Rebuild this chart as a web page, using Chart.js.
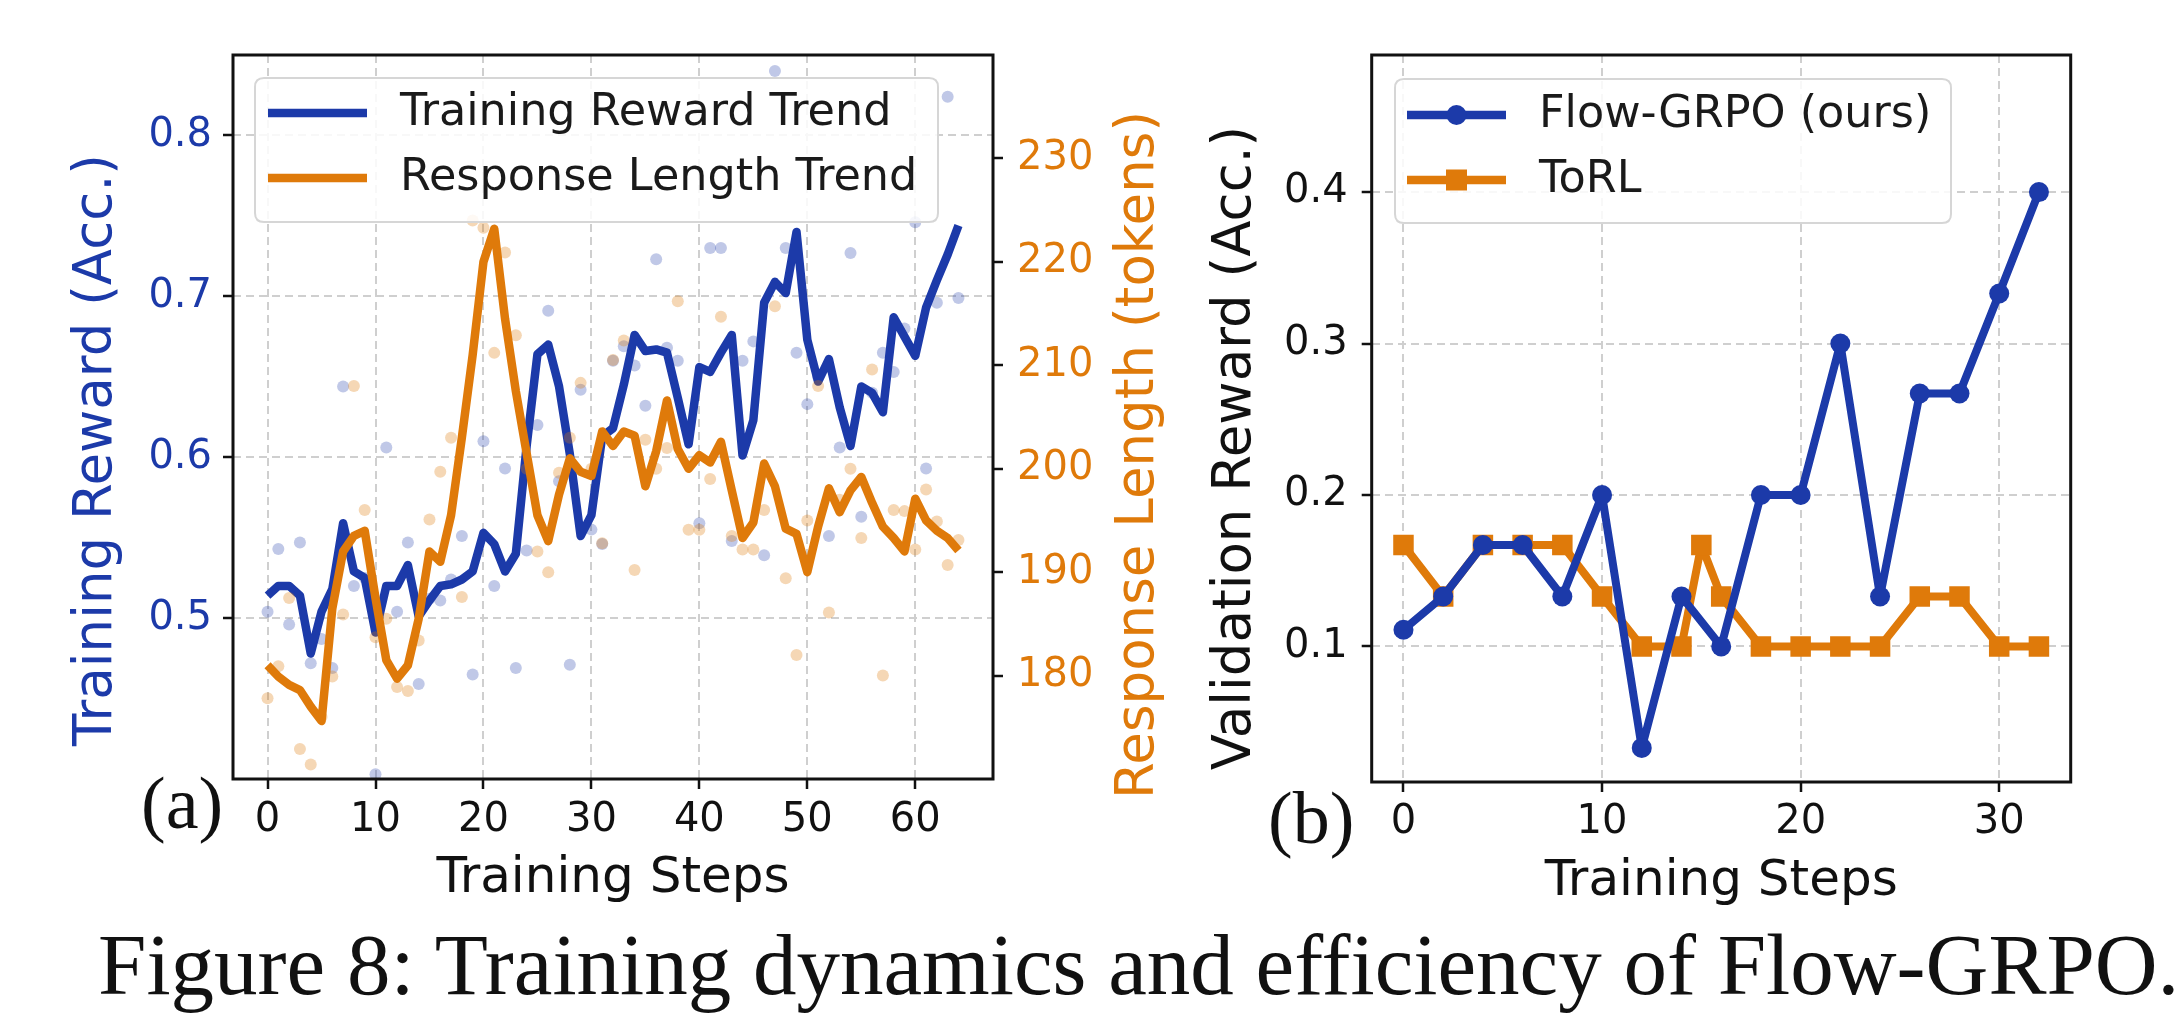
<!DOCTYPE html>
<html><head><meta charset="utf-8">
<script src="https://cdn.jsdelivr.net/npm/chart.js@4.4.1/dist/chart.umd.min.js"></script>
<style>
html,body{margin:0;padding:0;background:#fff;overflow:hidden;}
body{width:2178px;height:1020px;position:relative;}
canvas{position:absolute;top:0;}
#cA{left:0;}
#cB{left:1180px;}
.lbl{position:absolute;font-family:'Liberation Serif','Times New Roman',serif;color:#111;white-space:nowrap;line-height:1;}
#cap{left:0;width:2178px;text-indent:98px;}
</style></head><body>
<canvas id="cA" width="1190" height="920"></canvas>
<canvas id="cB" width="998" height="920"></canvas>
<div class="lbl" style="left:141px;top:766px;font-size:74px">(a)</div>
<div class="lbl" style="left:1268px;top:781px;font-size:74px">(b)</div>
<div class="lbl" id="cap" style="top:921px;font-size:87px">Figure 8: Training dynamics and efficiency of Flow-GRPO.</div>
<script>
// ---------- Panel (a) data ----------
const trainSteps = [0,1,2,3,4,5,6,7,8,9,10,11,12,13,14,15,16,17,18,19,20,21,22,23,24,25,26,27,28,29,30,31,32,33,34,35,36,37,38,39,40,41,42,43,44,45,46,47,48,49,50,51,52,53,54,55,56,57,58,59,60,61,62,63,64];
const rewardTrend = [0.514,0.520,0.520,0.514,0.478,0.504,0.518,0.559,0.529,0.525,0.491,0.520,0.520,0.533,0.501,0.511,0.520,0.521,0.524,0.529,0.553,0.546,0.529,0.540,0.607,0.664,0.670,0.644,0.602,0.551,0.564,0.613,0.618,0.645,0.676,0.666,0.667,0.665,0.637,0.608,0.656,0.653,0.665,0.676,0.601,0.623,0.696,0.709,0.702,0.740,0.673,0.647,0.661,0.631,0.607,0.644,0.640,0.628,0.687,0.675,0.663,0.693,0.710,0.726,0.744];
const lengthTrend = [181.0,179.9,179.1,178.6,177.0,175.6,186.5,192.0,193.5,194.0,187.5,181.5,179.7,181.0,185.5,192.0,191.0,195.5,203.0,211.0,220.0,223.2,214.5,207.5,201.5,195.5,193.0,197.5,201.0,199.7,199.3,203.6,202.2,203.6,203.2,198.3,201.7,206.6,201.9,200.0,201.3,200.6,202.6,197.9,193.3,194.8,200.5,198.3,194.2,193.7,190.0,194.4,198.1,195.8,197.9,199.2,196.7,194.4,193.3,192.0,197.1,195.0,194.0,193.3,192.1];
const rewardRaw = [0.504,0.543,0.496,0.547,0.472,0.487,0.469,0.644,0.520,0.525,0.403,0.606,0.504,0.547,0.459,0.512,0.511,0.524,0.551,0.465,0.610,0.520,0.593,0.469,0.542,0.620,0.691,0.585,0.471,0.642,0.555,0.546,0.660,0.669,0.657,0.632,0.723,0.668,0.660,0.620,0.559,0.730,0.730,0.548,0.660,0.672,0.539,0.840,0.730,0.665,0.633,0.650,0.551,0.606,0.727,0.563,0.640,0.665,0.653,0.680,0.746,0.593,0.696,0.824,0.699];
const lengthRaw = [177.8,180.9,187.5,172.9,171.4,176.0,179.9,185.9,208.0,196.0,183.7,185.5,178.9,178.5,183.4,195.1,199.7,203.0,187.6,224.0,223.3,211.2,220.9,212.9,200.0,192.0,190.0,199.6,203.0,208.3,200.0,192.8,210.5,212.4,190.2,202.8,200.0,202.0,216.2,194.1,194.1,199.0,214.7,193.5,192.2,192.2,196.0,215.7,189.4,182.0,195.0,208.0,186.1,197.0,200.0,193.3,209.6,180.0,196.0,195.9,192.2,198.0,194.9,190.7,193.1];
const xTicksA = [0,10,20,30,40,50,60];
const rewardTicks = [0.5,0.6,0.7,0.8];
const lengthTicks = [180,190,200,210,220,230];

// ---------- Panel (b) data ----------
const flowSteps = [0,2,4,6,8,10,12,14,16,18,20,22,24,26,28,30,32];
const flowValues = [0.111,0.133,0.167,0.167,0.133,0.200,0.033,0.133,0.100,0.200,0.200,0.300,0.133,0.267,0.267,0.333,0.400];
const torlSteps = [0,2,4,6,8,10,12,14,15,16,18,20,22,24,26,28,30,32];
const torlValues = [0.167,0.133,0.167,0.167,0.167,0.133,0.100,0.100,0.167,0.133,0.100,0.100,0.100,0.100,0.133,0.133,0.100,0.100];
const xTicksB = [0,10,20,30];
const valTicks = [0.1,0.2,0.3,0.4];

const BLUE = '#1c3aa9', ORANGE = '#df7a0a';
const FAM = "'DejaVu Sans', sans-serif";
const pts = (xs, ys) => xs.map((x, i) => ({x: x, y: ys[i]}));
const setTicks = arr => (axis => { axis.ticks = arr.map(v => ({value: v})); });

function grid(onArea) {
  return {display: true, drawOnChartArea: onArea, color: '#cfcfcf', lineWidth: 2,
          drawTicks: true, tickLength: 10, tickColor: '#111',
          tickWidth: 2.5, tickBorderDash: []};
}
const dashedBorder = {display: false, dash: [8, 5]};

function roundRect(ctx, x, y, w, h, r) {
  ctx.beginPath();
  ctx.moveTo(x + r, y); ctx.lineTo(x + w - r, y); ctx.quadraticCurveTo(x + w, y, x + w, y + r);
  ctx.lineTo(x + w, y + h - r); ctx.quadraticCurveTo(x + w, y + h, x + w - r, y + h);
  ctx.lineTo(x + r, y + h); ctx.quadraticCurveTo(x, y + h, x, y + h - r);
  ctx.lineTo(x, y + r); ctx.quadraticCurveTo(x, y, x + r, y); ctx.closePath();
}

function framePlugin() {
  return {id: 'frame', afterDatasetsDraw(chart) {
    const {ctx, chartArea: a} = chart;
    ctx.save(); ctx.strokeStyle = '#111'; ctx.lineWidth = 3; ctx.setLineDash([]);
    ctx.strokeRect(a.left, a.top, a.right - a.left, a.bottom - a.top);
    ctx.restore();
  }};
}

function legendPlugin(box, items) {
  return {id: 'customLegend', afterDraw(chart) {
    const ctx = chart.ctx;
    ctx.save(); ctx.setLineDash([]);
    roundRect(ctx, box.x, box.y, box.w, box.h, 9);
    ctx.fillStyle = 'rgba(255,255,255,0.85)'; ctx.fill();
    ctx.strokeStyle = '#d6d6d6'; ctx.lineWidth = 2; ctx.stroke();
    items.forEach(it => {
      ctx.strokeStyle = it.color; ctx.lineWidth = 8.5; ctx.lineCap = 'butt';
      ctx.beginPath(); ctx.moveTo(box.lx0, it.y); ctx.lineTo(box.lx1, it.y); ctx.stroke();
      const mx = (box.lx0 + box.lx1) / 2;
      ctx.fillStyle = it.color;
      if (it.marker === 'circle') { ctx.beginPath(); ctx.arc(mx, it.y, 10, 0, Math.PI * 2); ctx.fill(); }
      if (it.marker === 'square') { ctx.fillRect(mx - 10.5, it.y - 10.5, 21, 21); }
      ctx.fillStyle = '#1a1a1a'; ctx.font = '44.5px ' + FAM;
      ctx.textBaseline = 'middle'; ctx.textAlign = 'left';
      ctx.fillText(it.text, box.tx, it.y);
    });
    ctx.restore();
  }};
}

// axis titles drawn reading bottom-to-top, as in the reference
function yTitlesPlugin(titles) {
  return {id: 'yTitles', afterDraw(chart) {
    const ctx = chart.ctx;
    titles.forEach(t => {
      ctx.save();
      ctx.translate(t.x, t.y); ctx.rotate(-Math.PI / 2);
      ctx.fillStyle = t.color; ctx.font = '53px ' + FAM;
      ctx.textAlign = 'center'; ctx.textBaseline = 'middle';
      ctx.fillText(t.text, 0, 0);
      ctx.restore();
    });
  }};
}

Chart.defaults.font.family = FAM;

new Chart(document.getElementById('cA'), {
  type: 'line',
  data: {datasets: [
    {label: 'reward raw', data: pts(trainSteps, rewardRaw), yAxisID: 'y', showLine: false,
     pointRadius: 6, pointBorderWidth: 0, pointBackgroundColor: 'rgba(28,58,169,0.28)', order: 4},
    {label: 'Training Reward Trend', data: pts(trainSteps, rewardTrend), yAxisID: 'y',
     borderColor: BLUE, borderWidth: 8.5, pointRadius: 0, tension: 0, borderJoinStyle: 'round', order: 3},
    {label: 'length raw', data: pts(trainSteps, lengthRaw), yAxisID: 'y2', showLine: false,
     pointRadius: 6, pointBorderWidth: 0, pointBackgroundColor: 'rgba(223,122,10,0.30)', order: 2},
    {label: 'Response Length Trend', data: pts(trainSteps, lengthTrend), yAxisID: 'y2',
     borderColor: ORANGE, borderWidth: 8.5, pointRadius: 0, tension: 0, borderJoinStyle: 'round', order: 1}
  ]},
  options: {
    responsive: false, animation: false, devicePixelRatio: 1,
    layout: {padding: {top: 55, left: 0, right: 0, bottom: 0}},
    plugins: {legend: {display: false}, tooltip: {enabled: false}},
    scales: {
      x: {type: 'linear', min: -3.2, max: 67.2, afterBuildTicks: setTicks(xTicksA),
          afterFit: s => { s.height = 141; },
          grid: grid(true), border: dashedBorder,
          ticks: {color: '#111', font: {size: 40}, padding: 8, maxRotation: 0, autoSkip: false,
                  callback: v => String(v)},
          title: {display: true, text: 'Training Steps', color: '#111', font: {size: 50},
                  padding: {top: 0, bottom: 11}}},
      y: {type: 'linear', position: 'left', min: 0.40, max: 0.85, afterBuildTicks: setTicks(rewardTicks),
          afterFit: s => { s.width = 233; },
          grid: grid(true), border: dashedBorder,
          ticks: {color: BLUE, font: {size: 40}, padding: 11, autoSkip: false,
                  callback: v => Number(v).toFixed(1)},
          title: {display: false}},
      y2: {type: 'linear', position: 'right', min: 170, max: 240, afterBuildTicks: setTicks(lengthTicks),
           afterFit: s => { s.width = 197; },
           grid: grid(false), border: dashedBorder,
           ticks: {color: ORANGE, font: {size: 40}, padding: 14, autoSkip: false,
                   callback: v => String(v)},
           title: {display: false}}
    }
  },
  plugins: [framePlugin(),
    yTitlesPlugin([{text: 'Training Reward (Acc.)', color: BLUE, x: 97, y: 450},
                   {text: 'Response Length (tokens)', color: ORANGE, x: 1139, y: 455}]),
    legendPlugin({x: 255, y: 78, w: 683, h: 144, lx0: 268, lx1: 367, tx: 400},
      [{text: 'Training Reward Trend', color: BLUE, y: 113},
       {text: 'Response Length Trend', color: ORANGE, y: 178}])]
});

new Chart(document.getElementById('cB'), {
  type: 'line',
  data: {datasets: [
    {label: 'Flow-GRPO (ours)', data: pts(flowSteps, flowValues), borderColor: BLUE, backgroundColor: BLUE,
     borderWidth: 8, pointRadius: 10, pointBorderWidth: 0, pointBackgroundColor: BLUE, pointStyle: 'circle',
     tension: 0, borderJoinStyle: 'round', order: 1},
    {label: 'ToRL', data: pts(torlSteps, torlValues), borderColor: ORANGE, backgroundColor: ORANGE,
     borderWidth: 8, pointRadius: 14.5, pointBorderWidth: 0, pointBackgroundColor: ORANGE, pointStyle: 'rect',
     tension: 0, borderJoinStyle: 'round', order: 2}
  ]},
  options: {
    responsive: false, animation: false, devicePixelRatio: 1,
    layout: {padding: {top: 55, left: 0, right: 107.3, bottom: 0}},
    plugins: {legend: {display: false}, tooltip: {enabled: false}},
    scales: {
      x: {type: 'linear', min: -1.6, max: 33.6, afterBuildTicks: setTicks(xTicksB),
          afterFit: s => { s.height = 138; },
          grid: grid(true), border: dashedBorder,
          ticks: {color: '#111', font: {size: 40}, padding: 7, maxRotation: 0, autoSkip: false,
                  callback: v => String(v)},
          title: {display: true, text: 'Training Steps', color: '#111', font: {size: 50},
                  padding: {top: 0, bottom: 8}}},
      y: {type: 'linear', position: 'left', min: 0.0105, max: 0.4905, afterBuildTicks: setTicks(valTicks),
          afterFit: s => { s.width = 191.7; },
          grid: grid(true), border: dashedBorder,
          ticks: {color: '#111', font: {size: 40}, padding: 14, autoSkip: false,
                  callback: v => Number(v).toFixed(1)},
          title: {display: false}}
    }
  },
  plugins: [framePlugin(),
    yTitlesPlugin([{text: 'Validation Reward (Acc.)', color: '#111', x: 56, y: 448}]),
    legendPlugin({x: 215, y: 79, w: 556, h: 144, lx0: 227, lx1: 326, tx: 359},
      [{text: 'Flow-GRPO (ours)', color: BLUE, y: 115, marker: 'circle'},
       {text: 'ToRL', color: ORANGE, y: 180, marker: 'square'}])]
});
</script>
</body></html>
